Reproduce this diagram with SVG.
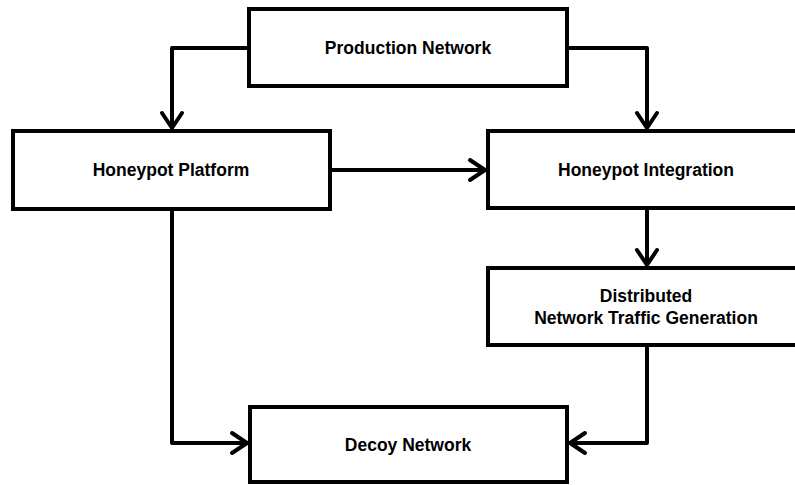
<svg xmlns="http://www.w3.org/2000/svg" width="795" height="485" viewBox="0 0 795 485">
<defs>
<style>
.box{fill:#fff;stroke:#000;stroke-width:4}
.lbl{font-family:"Liberation Sans",Arial,sans-serif;font-weight:bold;font-size:17.5px;fill:#000;text-anchor:middle}
.con{fill:none;stroke:#000;stroke-width:4;stroke-linejoin:round;marker-end:url(#arr)}
</style>
<marker id="arr" markerUnits="userSpaceOnUse" markerWidth="30" markerHeight="30" viewBox="-20 -15 25 30" refX="0" refY="0" orient="auto">
<path d="M-15,-10 L0,0 L-15,10" fill="none" stroke="#000" stroke-width="4" stroke-linecap="round" stroke-linejoin="round"/>
</marker>
</defs>
<rect width="795" height="485" fill="#fff"/>
<g id="connectors">
<path class="con" d="M249,48 H172 V128"/>
<path class="con" d="M567,48 H647 V128"/>
<path class="con" d="M330,170 H485"/>
<path class="con" d="M647,208 V265"/>
<path class="con" d="M172,209 V443 H247"/>
<path class="con" d="M647,345 V443 H570"/>
</g>
<g id="production">
<rect class="box" x="249" y="9" width="318" height="77"/>
<text class="lbl" x="408" y="54">Production Network</text>
</g>
<g id="platform">
<rect class="box" x="13" y="131" width="317" height="78"/>
<text class="lbl" x="171" y="176">Honeypot Platform</text>
</g>
<g id="integration">
<rect class="box" x="488" y="131" width="320" height="77"/>
<text class="lbl" x="646" y="176">Honeypot Integration</text>
</g>
<g id="distributed">
<rect class="box" x="488" y="268" width="320" height="77"/>
<text class="lbl" x="646" y="302">Distributed</text>
<text class="lbl" x="646" y="324">Network Traffic Generation</text>
</g>
<g id="decoy">
<rect class="box" x="250" y="407" width="317" height="75"/>
<text class="lbl" x="408" y="451">Decoy Network</text>
</g>
</svg>
